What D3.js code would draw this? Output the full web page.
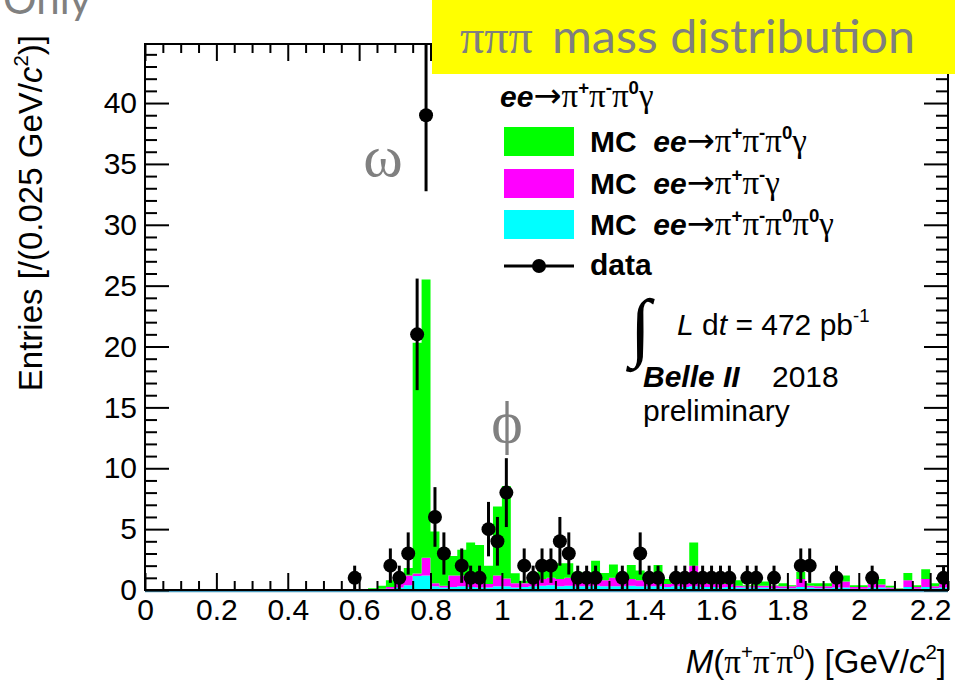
<!DOCTYPE html>
<html>
<head>
<meta charset="utf-8">
<script src="https://cdn.jsdelivr.net/npm/d3@7"></script>
<style>
  html, body { margin: 0; padding: 0; background: #fff; overflow: hidden; }
  svg text { white-space: pre; }
</style>
</head>
<body>
<svg id="chart" width="955" height="684"></svg>
<script>
// ---- histogram binning ----
const binWidth = 0.025;               // GeV/c^2
const massRange = [0, 2.25];
const yMax = 44.85;

// ---- MC stack contributions per bin (bins start at mcFirstBinLow) ----
const mcFirstBinLow = 0.6;
const mcCyan = [
  0, 0, 0.05, 0.1, 0.2, 0.4, 1.15, 1.2, 0.3, 0.2,
  0.25, 0.3, 0.25, 0.2, 0.2, 0.3, 0.3, 0.2, 0.25, 0.3,
  0.35, 0.4, 0.3, 0.35, 0.3, 0.3, 0.35, 0.3, 0.3, 0.3,
  0.35, 0.3, 0.3, 0.3, 0.25, 0.3, 0.25, 0.3, 0.25, 0.25,
  0.2, 0.25, 0.2, 0.2, 0.2, 0.2, 0.15, 0.15, 0.15, 0.25,
  0.2, 0.15, 0.15, 0.2, 0.2, 0.1, 0.1, 0.2, 0.2, 0.1,
  0.05, 0.25, 0.1, 0.25, 0.15, 0.2
];
const mcMagenta = [
  0, 0.05, 0.05, 0.15, 0.4, 0.8, 0.2, 1.45, 0.25, 0.15,
  0.95, 0.9, 0.45, 0.55, 0.3, 0.9, 0.65, 0.35, 0.3, 0.4,
  0.55, 0.6, 0.6, 0.65, 0.5, 0.4, 0.75, 0.5, 0.7, 0.4,
  0.55, 0.5, 0.5, 0.6, 0.25, 0.3, 0.35, 1.7, 0.35, 0.25,
  0.3, 0.25, 0.15, 0.1, 0.15, 0.15, 0.2, 0.15, 0.15, 0.65,
  0.15, 0.15, 0.15, 0.5, 0.5, 0.15, 0.15, 0.3, 0.25, 0.1,
  0.05, 0.55, 0.15, 0.65, 0.15, 0.3
];
const mcGreen = [
  0.05, 0.1, 0.25, 0.55, 0.7, 0.6, 18.95, 22.85, 4.25, 2.95,
  1.6, 2.1, 3.2, 2.95, 1.5, 5.65, 7.6, 0.82, 0.2, 0.15,
  0.7, 0.9, 1.3, 1.2, 0.7, 0.7, 1.3, 0.6, 1.1, 0.6,
  1.15, 0.8, 0.6, 1.15, 0.4, 0.3, 0.4, 1.9, 0.3, 0.3,
  0.3, 0.2, 0.45, 0.1, 0.2, 0.35, 0.05, 0.25, 0.1, 0.6,
  0.2, 0.25, 0.25, 0.5, 0.5, 0.15, 0.15, 0.4, 0.45, 0.15,
  0.05, 0.6, 0.15, 0.8, 0.25, 0.4
];

// ---- data (bin centres with non-zero counts) ----
const dataMass = [
  0.5875, 0.6875, 0.7125, 0.7375, 0.7625, 0.7875, 0.8125, 0.8375, 0.8875, 0.9125,
  0.9375, 0.9625, 0.9875, 1.0125, 1.0625, 1.0875, 1.1125, 1.1375, 1.1625, 1.1875,
  1.2125, 1.2375, 1.2625, 1.3375, 1.3875, 1.4125, 1.4375, 1.4875, 1.5125, 1.5375,
  1.5625, 1.5875, 1.6125, 1.6375, 1.6875, 1.7125, 1.7625, 1.8375, 1.8625, 1.9375,
  2.0375, 2.2375
];
const dataCounts = [
  1, 2, 1, 3, 21, 39, 6, 3, 2, 1,
  1, 5, 4, 8, 2, 1, 2, 2, 4, 3,
  1, 1, 1, 1, 3, 1, 1, 1, 1, 1,
  1, 1, 1, 1, 1, 1, 1, 2, 2, 1,
  1, 1
];

// ---- axis ticks ----
const xTickValues = [0, 0.2, 0.4, 0.6, 0.8, 1.0, 1.2, 1.4, 1.6, 1.8, 2.0, 2.2];
const xTickLabels = ["0", "0.2", "0.4", "0.6", "0.8", "1", "1.2", "1.4", "1.6", "1.8", "2", "2.2"];
const xMinorStep = 0.05;
const yTickValues = [0, 5, 10, 15, 20, 25, 30, 35, 40];
const yTickLabels = ["0", "5", "10", "15", "20", "25", "30", "35", "40"];
const yMinorStep = 1;

// ---- legend ----
const legendKeys = ["green", "magenta", "cyan"];
const legendColors = { cyan: "#00ffff", magenta: "#ff00ff", green: "#00ff00" };

const SANS = "'Liberation Sans', Arial, Helvetica, sans-serif";
const SERIF = "'Liberation Serif', 'Times New Roman', 'DejaVu Serif', serif";
const ARROW = "'DejaVu Sans', sans-serif";
const GEO = "Lato, 'Open Sans', sans-serif";

const svg = d3.select("#chart");
const plot = { left: 145, right: 948, top: 44, bottom: 590 };

const x = d3.scaleLinear().domain(massRange).range([plot.left, plot.right]);
const y = d3.scaleLinear().domain([0, yMax]).range([plot.bottom, plot.top]);

svg.append("defs").append("clipPath").attr("id", "plotClip")
  .append("rect")
  .attr("x", plot.left).attr("y", plot.top)
  .attr("width", plot.right - plot.left).attr("height", plot.bottom - plot.top);

// rich text helper: parts are [string, code]; code letters
// S = serif, L = large serif, A = arrow font, b = bold, i = italic, ^ = superscript
function rich(parent, px, py, size, parts, anchor) {
  const t = parent.append("text")
    .attr("x", px).attr("y", py)
    .attr("font-size", size)
    .attr("text-anchor", anchor || "start");
  let shift = 0;
  parts.forEach(([str, code]) => {
    code = code || "";
    const sup = code.includes("^");
    const target = sup ? -0.42 * size : 0;
    const ts = t.append("tspan").text(str);
    if (target !== shift) ts.attr("dy", target - shift);
    shift = target;
    const fam = code.includes("A") ? ARROW :
      ((code.includes("S") || code.includes("L")) ? SERIF : SANS);
    let fs = size;
    if (sup) fs = size * 0.62;
    else if (code.includes("A")) fs = size * 1.12;
    else if (code.includes("L")) fs = size * 1.1;
    ts.attr("font-family", fam)
      .attr("font-weight", code.includes("b") ? "bold" : "normal")
      .attr("font-style", code.includes("i") ? "italic" : "normal")
      .attr("font-size", fs);
  });
  return t;
}

// ---- stacked MC histogram ----
const rows = mcCyan.map((c, i) => ({
  lo: mcFirstBinLow + i * binWidth,
  cyan: c, magenta: mcMagenta[i], green: mcGreen[i]
}));
const lastRow = rows[rows.length - 1];
rows.push(Object.assign({}, lastRow, { lo: lastRow.lo + binWidth }));

const layers = d3.stack().keys(["cyan", "magenta", "green"])(rows);
const area = d3.area()
  .curve(d3.curveStepAfter)
  .x(d => x(d.data.lo))
  .y0(d => y(d[0]))
  .y1(d => y(d[1]));

const histG = svg.append("g").attr("clip-path", "url(#plotClip)");
histG.selectAll("path.layer")
  .data(layers)
  .join("path")
  .attr("class", "layer")
  .attr("fill", d => legendColors[d.key])
  .attr("d", area);

// thin outline of the stack along the baseline
svg.append("line")
  .attr("x1", x(massRange[0])).attr("x2", x(massRange[1]))
  .attr("y1", y(0) + 1.5).attr("y2", y(0) + 1.5)
  .attr("stroke", "#4a9cc0").attr("stroke-width", 1.5);

// ---- axes (ticks point inward, mirrored on top/right) ----
function styleAxis(g) {
  g.select(".domain").remove();
  g.selectAll(".tick line").attr("stroke", "#000").attr("stroke-width", 2);
  g.attr("font-family", SANS).attr("font-size", 30);
  g.selectAll(".tick text").attr("fill", "#000");
}
const xMinor = d3.range(0, massRange[1] + 1e-9, xMinorStep)
  .filter(v => !xTickValues.some(t => Math.abs(t - v) < 1e-6));
const yMinor = d3.range(0, yMax, yMinorStep)
  .filter(v => !yTickValues.includes(v));

svg.append("g").attr("transform", `translate(0,${plot.bottom})`)
  .call(d3.axisBottom(x).tickValues(xTickValues).tickFormat((d, i) => xTickLabels[i])
    .tickSize(-17).tickSizeOuter(0).tickPadding(9))
  .call(styleAxis);
svg.append("g").attr("transform", `translate(0,${plot.bottom})`)
  .call(d3.axisBottom(x).tickValues(xMinor).tickFormat("").tickSize(-9).tickSizeOuter(0))
  .call(styleAxis);
svg.append("g").attr("transform", `translate(0,${plot.top})`)
  .call(d3.axisTop(x).tickValues(xTickValues).tickFormat("").tickSize(-17).tickSizeOuter(0))
  .call(styleAxis);
svg.append("g").attr("transform", `translate(0,${plot.top})`)
  .call(d3.axisTop(x).tickValues(xMinor).tickFormat("").tickSize(-9).tickSizeOuter(0))
  .call(styleAxis);

svg.append("g").attr("transform", `translate(${plot.left},0)`)
  .call(d3.axisLeft(y).tickValues(yTickValues).tickFormat((d, i) => yTickLabels[i])
    .tickSize(-24).tickSizeOuter(0).tickPadding(8))
  .call(styleAxis);
svg.append("g").attr("transform", `translate(${plot.left},0)`)
  .call(d3.axisLeft(y).tickValues(yMinor).tickFormat("").tickSize(-12).tickSizeOuter(0))
  .call(styleAxis);
svg.append("g").attr("transform", `translate(${plot.right},0)`)
  .call(d3.axisRight(y).tickValues(yTickValues).tickFormat("").tickSize(-24).tickSizeOuter(0))
  .call(styleAxis);
svg.append("g").attr("transform", `translate(${plot.right},0)`)
  .call(d3.axisRight(y).tickValues(yMinor).tickFormat("").tickSize(-12).tickSizeOuter(0))
  .call(styleAxis);

// ---- data points with Poisson error bars ----
const pts = dataMass.map((m, i) => ({ m, n: dataCounts[i], e: Math.sqrt(dataCounts[i]) }));
const dataG = svg.append("g").attr("clip-path", "url(#plotClip)");
dataG.selectAll("line.err")
  .data(pts).join("line")
  .attr("class", "err")
  .attr("x1", d => x(d.m)).attr("x2", d => x(d.m))
  .attr("y1", d => y(d.n - d.e)).attr("y2", d => y(d.n + d.e))
  .attr("stroke", "#000").attr("stroke-width", 3);
dataG.selectAll("circle.pt")
  .data(pts).join("circle")
  .attr("class", "pt")
  .attr("cx", d => x(d.m)).attr("cy", d => y(d.n))
  .attr("r", 7).attr("fill", "#000");

// ---- frame ----
svg.append("rect")
  .attr("x", plot.left).attr("y", plot.top)
  .attr("width", plot.right - plot.left).attr("height", plot.bottom - plot.top)
  .attr("fill", "none").attr("stroke", "#000").attr("stroke-width", 2);

// ---- resonance labels ----
svg.append("text").attr("x", 383).attr("y", 176).attr("text-anchor", "middle")
  .attr("font-family", SERIF).attr("font-size", 60).attr("fill", "#808080").text("ω");
svg.append("text").attr("x", 507).attr("y", 442).attr("text-anchor", "middle")
  .attr("font-family", SERIF).attr("font-size", 60).attr("fill", "#808080").text("ϕ");

// ---- slide header fragments ----
svg.append("text").attr("x", 3).attr("y", 14)
  .attr("font-family", GEO).attr("font-size", 42).attr("fill", "#808080").text("Only");

svg.append("rect").attr("x", 432).attr("y", 0).attr("width", 523).attr("height", 74)
  .attr("fill", "#ffff00");
svg.append("text").attr("x", 460).attr("y", 53)
  .attr("font-family", SERIF).attr("font-size", 48).attr("fill", "#7f7f7f").text("πππ");
svg.append("text").attr("x", 552).attr("y", 53)
  .attr("font-family", GEO).attr("font-size", 46).attr("fill", "#7f7f7f")
  .attr("textLength", 363).attr("lengthAdjust", "spacingAndGlyphs")
  .text("mass distribution");

// ---- legend ----
const leg = svg.append("g").attr("fill", "#000");
const procParts = {
  green:   [["→", "A"], ["π", "L"], ["+", "b^"], ["π", "L"], ["-", "b^"], ["π", "L"], ["0", "b^"], ["γ", "L"]],
  magenta: [["→", "A"], ["π", "L"], ["+", "b^"], ["π", "L"], ["-", "b^"], ["γ", "L"]],
  cyan:    [["→", "A"], ["π", "L"], ["+", "b^"], ["π", "L"], ["-", "b^"], ["π", "L"], ["0", "b^"], ["π", "L"], ["0", "b^"], ["γ", "L"]]
};
rich(leg, 500, 107, 30, [["ee", "bi"]].concat(procParts.green));

const rowY = [141.5, 183.5, 224.5];
legendKeys.forEach((k, i) => {
  leg.append("rect").attr("x", 504).attr("y", rowY[i] - 14.5)
    .attr("width", 70).attr("height", 29).attr("fill", legendColors[k]);
  rich(leg, 590, rowY[i] + 10.5, 30, [["MC  ", "b"], ["ee", "bi"]].concat(procParts[k]));
});
leg.append("line").attr("x1", 504).attr("x2", 574).attr("y1", 266).attr("y2", 266)
  .attr("stroke", "#000").attr("stroke-width", 3);
leg.append("circle").attr("cx", 539).attr("cy", 266).attr("r", 7).attr("fill", "#000");
rich(leg, 590, 275, 30, [["data", "b"]]);

// ---- luminosity / experiment tag ----
svg.append("text").attr("x", 630).attr("y", 352)
  .attr("font-family", SERIF).attr("font-size", 76).attr("font-weight", "bold").text("∫");
rich(svg, 677, 335, 30, [["L", "i"], [" d", ""], ["t", "i"], [" = 472 pb", ""], ["-1", "^"]]);
rich(svg, 643, 387, 30, [["Belle II", "bi"]]);
rich(svg, 772, 387, 30, [["2018", ""]]);
rich(svg, 643, 421, 30, [["preliminary", ""]]);

// ---- axis titles ----
rich(svg, 946, 673, 33,
  [["M", "i"], ["(", ""], ["π", "S"], ["+", "^"], ["π", "S"], ["-", "^"], ["π", "S"], ["0", "^"],
   [") [GeV/", ""], ["c", "i"], ["2", "^"], ["]", ""]], "end");

const yTitle = svg.append("g").attr("transform", "translate(42,35) rotate(-90)");
rich(yTitle, 0, 0, 33,
  [["Entries [/(0.025 GeV/", ""], ["c", "i"], ["2", "^"], [")]", ""]], "end");
</script>
</body>
</html>
